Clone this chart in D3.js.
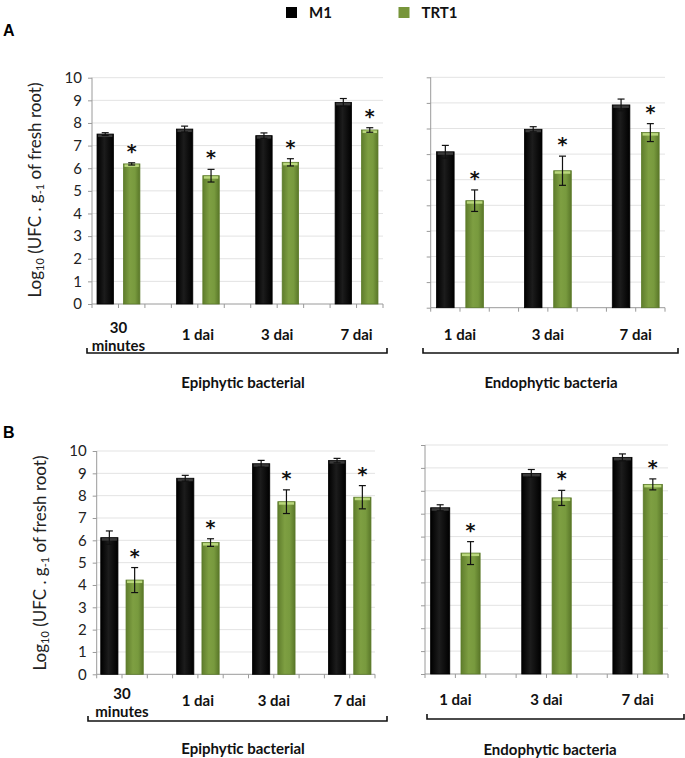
<!DOCTYPE html>
<html><head><meta charset="utf-8">
<script src="https://cdn.jsdelivr.net/npm/d3@7"></script>
<style>
body{margin:0;background:#fff;}
svg{display:block;font-family:Lato,"Open Sans",sans-serif;}
</style></head>
<body>
<svg id="chart" width="685" height="758"></svg>
<script>
// ---- data ----
const seriesNames = ["M1", "TRT1"];
const epiGroups = ["30 minutes", "1 dai", "3 dai", "7 dai"];
const endoGroups = ["1 dai", "3 dai", "7 dai"];
const yTicks10 = [0,1,2,3,4,5,6,7,8,9,10];

const A_epi_M1 = [7.51, 7.73, 7.44, 8.91];
const A_epi_M1_err = [0.06, 0.13, 0.12, 0.17];
const A_epi_TRT1 = [6.19, 5.67, 6.26, 7.69];
const A_epi_TRT1_err = [0.05, 0.28, 0.16, 0.10];

const A_endo_M1 = [6.09, 6.97, 7.92];
const A_endo_M1_err = [0.25, 0.10, 0.23];
const A_endo_TRT1 = [4.18, 5.35, 6.84];
const A_endo_TRT1_err = [0.42, 0.57, 0.35];

const B_epi_M1 = [6.12, 8.78, 9.43, 9.57];
const B_epi_M1_err = [0.30, 0.13, 0.15, 0.10];
const B_epi_TRT1 = [4.22, 5.90, 7.73, 7.93];
const B_epi_TRT1_err = [0.56, 0.17, 0.53, 0.52];

const B_endo_M1 = [7.26, 8.76, 9.46];
const B_endo_M1_err = [0.13, 0.17, 0.15];
const B_endo_TRT1 = [5.28, 7.69, 8.28];
const B_endo_TRT1_err = [0.50, 0.33, 0.24];

const groupTitles = ["Epiphytic bacterial", "Endophytic bacteria"];
const panelLabels = ["A", "B"];

// ---- drawing ----
const svg = d3.select("#chart");
const defs = svg.append("defs");
function hGrad(id, stops){
  const g = defs.append("linearGradient").attr("id", id).attr("x1","0").attr("x2","1").attr("y1","0").attr("y2","0");
  stops.forEach(s => g.append("stop").attr("offset", s[0]).attr("stop-color", s[1]));
}
hGrad("gBlack", [["0%","#000"],["45%","#1c1c1c"],["100%","#000"]]);
hGrad("gGreen", [["0%","#5f7d2c"],["40%","#7e9f42"],["70%","#789a3e"],["100%","#5a7729"]]);
const fills = {M1: "url(#gBlack)", TRT1: "url(#gGreen)"};
const caps = {M1: "#3a3a3a", TRT1: "#b9d77c"};
const strokes = {M1: "#000", TRT1: "#5b7a28"};

function panel(cfg){
  const {x0, x1, yBottom, yTop, yMax, groups, m1, m1e, t1, t1e, showLabels} = cfg;
  // slots: M1, TRT1, gap, ...
  const slots = [];
  groups.forEach((g, i) => {
    slots.push(g + "|M1"); slots.push(g + "|TRT1");
    if (i < groups.length - 1) slots.push("gap" + i);
  });
  const x = d3.scaleBand().domain(slots).range([x0, x1]).padding(0);
  const y = d3.scaleLinear().domain([0, yMax]).range([yBottom, yTop]);
  const gg = svg.append("g");
  const ticks = yTicks10.filter(t => t <= yMax);

  // gridlines
  gg.append("g").selectAll("line").data(ticks.filter(t => t > 0)).join("line")
    .attr("x1", x0).attr("x2", x1).attr("y1", d => y(d)).attr("y2", d => y(d))
    .attr("stroke", "#e3e3e3").attr("stroke-width", 1);

  // y axis
  const ya = d3.axisLeft(y).tickValues(ticks).tickSize(4).tickPadding(6)
    .tickFormat(showLabels ? d3.format("d") : () => "");
  const yg = gg.append("g").attr("transform", `translate(${x0},0)`).call(ya);
  yg.select(".domain").attr("stroke", "#9a9a9a").attr("d", `M0,${yBottom}V${yTop}`);
  yg.selectAll(".tick line").attr("stroke", "#9a9a9a");
  yg.selectAll(".tick text").attr("fill", "#222").style("font-size", "15px").style("font-family", "Lato, sans-serif");

  // x axis with ticks at slot boundaries
  const bounds = slots.map(s => x(s)).concat([x1]);
  gg.append("line").attr("x1", x0).attr("x2", x1).attr("y1", yBottom).attr("y2", yBottom)
    .attr("stroke", "#9a9a9a");
  gg.append("g").selectAll("line").data(bounds).join("line")
    .attr("x1", d => d).attr("x2", d => d).attr("y1", yBottom).attr("y2", yBottom + 4)
    .attr("stroke", "#9a9a9a");

  // bars
  const bars = [];
  groups.forEach((g, i) => {
    bars.push({key: g + "|M1", s: "M1", v: m1[i], e: m1e[i]});
    bars.push({key: g + "|TRT1", s: "TRT1", v: t1[i], e: t1e[i]});
  });
  const bw = x.bandwidth() * cfg.barFrac;
  const bx = d => x(d.key) + (x.bandwidth() - bw) / 2;
  const bg = gg.append("g");
  bg.selectAll("rect.bar").data(bars).join("rect").attr("class", "bar")
    .attr("x", bx).attr("width", bw)
    .attr("y", d => y(d.v)).attr("height", d => yBottom - y(d.v))
    .attr("fill", d => fills[d.s]).attr("stroke", d => strokes[d.s]).attr("stroke-width", 0.8);
  bg.selectAll("rect.cap").data(bars).join("rect").attr("class", "cap")
    .attr("x", d => bx(d) + 1).attr("width", bw - 2)
    .attr("y", d => y(d.v) + 0.5).attr("height", 2.5)
    .attr("fill", d => caps[d.s]);

  // error bars
  const eg = gg.append("g").attr("stroke", "#111").attr("stroke-width", 1.2);
  const cx = d => x(d.key) + x.bandwidth() / 2;
  eg.selectAll("line.v").data(bars).join("line").attr("class", "v")
    .attr("x1", cx).attr("x2", cx).attr("y1", d => y(d.v + d.e)).attr("y2", d => y(d.v - d.e));
  eg.selectAll("line.t").data(bars).join("line").attr("class", "t")
    .attr("x1", d => cx(d) - 3.5).attr("x2", d => cx(d) + 3.5).attr("y1", d => y(d.v + d.e)).attr("y2", d => y(d.v + d.e));
  eg.selectAll("line.b").data(bars).join("line").attr("class", "b")
    .attr("x1", d => cx(d) - 3.5).attr("x2", d => cx(d) + 3.5).attr("y1", d => y(d.v - d.e)).attr("y2", d => y(d.v - d.e));

  // asterisks above TRT1
  gg.append("g").selectAll("text").data(bars.filter(b => b.s === "TRT1")).join("text")
    .attr("x", cx).attr("y", d => y(d.v + d.e) - 5)
    .attr("text-anchor", "middle")
    .style("font-family", "'DejaVu Sans', sans-serif").style("font-size", "19px").style("font-weight", "bold")
    .attr("fill", "#111").text("*");

  // category labels
  const lg = gg.append("g").style("font-size", "15px").style("font-weight", "bold").attr("fill", "#111");
  groups.forEach(g => {
    const c = x(g + "|M1") + x.bandwidth();
    const parts = g === "30 minutes" ? ["30", "minutes"] : [g];
    if (parts.length === 2) {
      lg.append("text").attr("x", c).attr("y", cfg.labY - 7).attr("text-anchor", "middle").text(parts[0]);
      lg.append("text").attr("x", c).attr("y", cfg.labY + 11).attr("text-anchor", "middle").text(parts[1]);
    } else {
      lg.append("text").attr("x", c).attr("y", cfg.labY).attr("text-anchor", "middle").text(parts[0]);
    }
  });

  // bracket
  const br = cfg.bracket;
  gg.append("path").attr("d", `M${br[0]},${br[2] - 5}V${br[2]}H${br[1]}V${br[2] - 5}`)
    .attr("fill", "none").attr("stroke", "#111").attr("stroke-width", 1.6);
  // group title
  gg.append("text").attr("x", cfg.titleX).attr("y", cfg.titleY).attr("text-anchor", "middle")
    .style("font-size", "15px").style("font-weight", "bold").attr("fill", "#111").text(cfg.title);
}

panel({x0: 92, x1: 383, yBottom: 304, yTop: 77.7, yMax: 10, groups: epiGroups,
  m1: A_epi_M1, m1e: A_epi_M1_err, t1: A_epi_TRT1, t1e: A_epi_TRT1_err, showLabels: true,
  barFrac: 0.62, labY: 340, bracket: [87, 387, 353], title: groupTitles[0], titleX: 243, titleY: 388});
panel({x0: 430.7, x1: 665, yBottom: 307.7, yTop: 77.3, yMax: 9, groups: endoGroups,
  m1: A_endo_M1, m1e: A_endo_M1_err, t1: A_endo_TRT1, t1e: A_endo_TRT1_err, showLabels: false,
  barFrac: 0.6, labY: 340, bracket: [423, 678, 353], title: groupTitles[1], titleX: 551, titleY: 388});
panel({x0: 96.7, x1: 375, yBottom: 674.3, yTop: 451, yMax: 10, groups: epiGroups,
  m1: B_epi_M1, m1e: B_epi_M1_err, t1: B_epi_TRT1, t1e: B_epi_TRT1_err, showLabels: true,
  barFrac: 0.68, labY: 706, bracket: [88, 387, 721], title: groupTitles[0], titleX: 243, titleY: 754});
panel({x0: 425, x1: 668, yBottom: 674, yTop: 445, yMax: 10, groups: endoGroups,
  m1: B_endo_M1, m1e: B_endo_M1_err, t1: B_endo_TRT1, t1e: B_endo_TRT1_err, showLabels: false,
  barFrac: 0.63, labY: 705, bracket: [427, 684, 719], title: groupTitles[1], titleX: 550, titleY: 755});

// y axis titles
function yTitle(cx, cy){
  const t = svg.append("text").attr("transform", `translate(${cx},${cy}) rotate(-90)`)
    .attr("text-anchor", "middle").style("font-size", "17px").attr("fill", "#222");
  t.append("tspan").text("Log");
  t.append("tspan").attr("baseline-shift", "-25%").style("font-size", "11px").text("10");
  t.append("tspan").text(" (UFC . g");
  t.append("tspan").attr("baseline-shift", "-25%").style("font-size", "11px").text("-1");
  t.append("tspan").text(" of fresh root)");
}
yTitle(41, 190);
yTitle(46, 563);

// panel labels
svg.append("text").attr("x", 3).attr("y", 36).style("font-size", "16px").style("font-weight", "bold")
  .style("font-family", "Liberation Sans, Arial, sans-serif").text(panelLabels[0]);
svg.append("text").attr("x", 3).attr("y", 438).style("font-size", "16px").style("font-weight", "bold")
  .style("font-family", "Liberation Sans, Arial, sans-serif").text(panelLabels[1]);

// legend
const legX = [286, 398.5];
const legColors = ["#000", "#77953a"];
seriesNames.forEach((s, i) => {
  svg.append("rect").attr("x", legX[i]).attr("y", 7).attr("width", 11).attr("height", 11).attr("fill", legColors[i]);
  svg.append("text").attr("x", legX[i] + 23).attr("y", 18).style("font-size", "15px").style("font-weight", "bold")
    .attr("fill", "#111").text(s);
});
</script>
</body></html>
